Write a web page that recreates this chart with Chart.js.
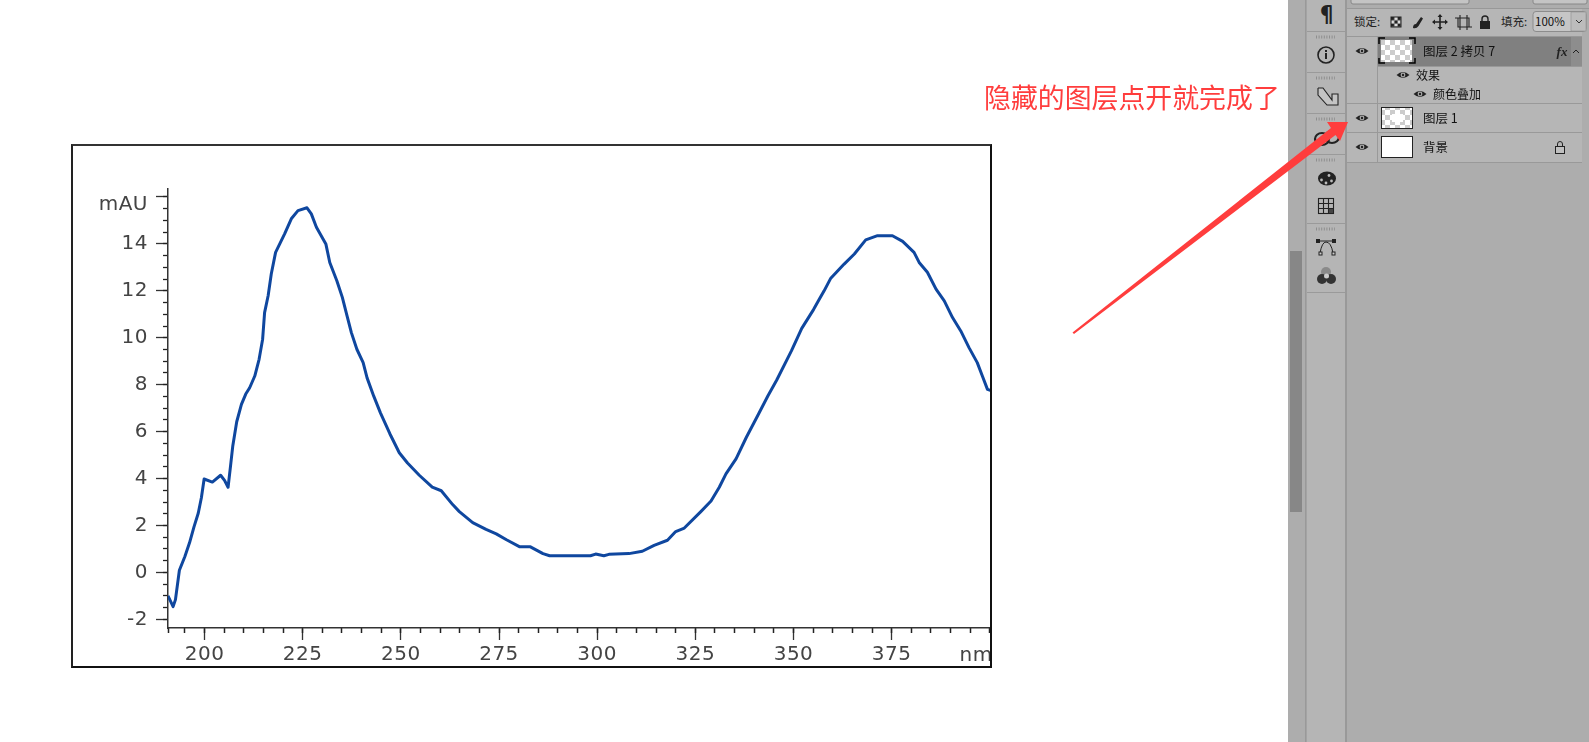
<!DOCTYPE html>
<html lang="zh"><head><meta charset="utf-8">
<script src="https://cdn.jsdelivr.net/npm/chart.js@4"></script>
<style>
html,body{margin:0;padding:0;width:1589px;height:742px;overflow:hidden;background:#fff}
#frame{position:absolute;left:71px;top:144px;width:917px;height:520px;border:2px solid #111;border-top-color:#333;border-left-color:#222;background:#fff;overflow:hidden}
#frame canvas{display:block}
#ui{position:absolute;left:0;top:0}
#ui text{font-family:"Noto Sans CJK SC","Noto Sans",sans-serif;fill:#111;font-size:12.5px}
</style></head><body>
<div id="frame"><canvas id="c" width="918" height="520"></canvas></div>
<svg id="ui" width="1589" height="742" xmlns="http://www.w3.org/2000/svg">
<defs>
<pattern id="chk" width="10" height="10" patternUnits="userSpaceOnUse"><rect width="10" height="10" fill="#fff"/><rect width="5" height="5" fill="#ccc"/><rect x="5" y="5" width="5" height="5" fill="#ccc"/></pattern>
<pattern id="chkd" x="1391" y="17" width="6.600" height="6.600" patternUnits="userSpaceOnUse"><rect width="6.600" height="6.600" fill="#ddd"/><rect width="3.300" height="3.300" fill="#222"/><rect x="3.300" y="3.300" width="3.300" height="3.300" fill="#222"/></pattern>
<g id="eye"><path d="M-6.500 0Q0 -6 6.500 0Q0 6 -6.500 0Z" fill="#222"/><circle r="2.400" fill="#aaa"/><circle r="1.200" fill="#222"/></g>
<g id="grip"><line x1="0" x2="19" stroke="#8e8e8e" stroke-width="3" stroke-dasharray="1 1.600"/></g>
</defs>
<rect x="1288" y="0" width="301" height="742" fill="#adadad"/>
<rect x="1290" y="251" width="12" height="261" fill="#878787"/>
<rect x="1305" y="0" width="1.500" height="742" fill="#999"/>
<rect x="1307" y="0" width="38" height="742" fill="#b5b5b5"/>
<rect x="1345" y="0" width="2" height="742" fill="#999"/>
<g fill="#9a9a9a"><rect x="1307" y="31" width="38" height="1"/><rect x="1307" y="72" width="38" height="1"/><rect x="1307" y="113" width="38" height="1"/><rect x="1307" y="154" width="38" height="1"/><rect x="1307" y="223" width="38" height="1"/><rect x="1307" y="292" width="38" height="1"/></g>
<use href="#grip" x="1316" y="37"/><use href="#grip" x="1316" y="78"/><use href="#grip" x="1316" y="119"/><use href="#grip" x="1316" y="160"/><use href="#grip" x="1316" y="229"/>
<text x="1327" y="22" text-anchor="middle" style="font-size:22px;font-weight:700;fill:#222">¶</text>
<circle cx="1326" cy="55" r="8" fill="none" stroke="#222" stroke-width="1.600"/><rect x="1325" y="53" width="2" height="6" fill="#222"/><rect x="1325" y="50" width="2" height="2" fill="#222"/>
<path d="M1318 88h5l9 12v-6h6v11h-6M1318 88v7l9 10h5" fill="#ddd" fill-opacity=".4" stroke="#222" stroke-width="1.100"/>
<g fill="none" stroke="#222" stroke-width="2.200"><ellipse cx="1322" cy="139" rx="7" ry="6"/><ellipse cx="1332" cy="137" rx="7" ry="6"/></g>
<ellipse cx="1327" cy="178.500" rx="9" ry="7" fill="#222"/><g fill="#bbb"><circle cx="1321.500" cy="180" r="1.400"/><circle cx="1326" cy="183" r="1.400"/><circle cx="1331.500" cy="181" r="1.400"/><circle cx="1329" cy="175.500" r="1.400"/></g>
<g fill="none" stroke="#222" stroke-width="1.100"><rect x="1318.500" y="198.500" width="15" height="15"/><path d="M1323.500 198.500v15M1328.500 198.500v15M1318.500 203.500h15M1318.500 208.500h15"/></g><rect x="1329" y="209" width="4" height="4" fill="#444"/>
<path d="M1320 253Q1322 242 1326 242Q1331 242 1333 253" fill="none" stroke="#222"/><path d="M1317 241h18" stroke="#222"/><rect x="1316" y="239" width="4" height="4" fill="#222"/><rect x="1332" y="239" width="4" height="4" fill="#222"/><rect x="1319" y="252" width="3" height="3" fill="#ccc" stroke="#222"/><rect x="1332" y="252" width="3" height="3" fill="#ccc" stroke="#222"/>
<circle cx="1326" cy="272" r="5" fill="#8a8a8a"/><circle cx="1322" cy="279" r="5" fill="#333"/><circle cx="1331" cy="279" r="5" fill="#333"/><circle cx="1326.500" cy="276" r="2.500" fill="#ccc"/>
<rect x="1347" y="0" width="235" height="742" fill="#adadad"/>
<rect x="1351" y="-6" width="118" height="10" rx="2" fill="#c4c4c4" stroke="#888"/>
<rect x="1533" y="-6" width="54" height="10" rx="2" fill="#c4c4c4" stroke="#888"/>
<rect x="1347" y="8" width="242" height="1" fill="#989898"/>
<rect x="1347" y="9" width="235" height="27" fill="#b6b6b6"/>
<rect x="1347" y="36" width="235" height="1" fill="#989898"/>
<text x="1354" y="26" style="font-size:11.500px;fill:#222">锁定:</text>
<rect x="1391" y="17" width="10" height="10" fill="url(#chkd)" stroke="#222" stroke-width="1"/>
<path d="M1413 28q0 -4 3 -4l5 -7 2 1.500-4.500 7.500q-2 3 -5.500 2z" fill="#222"/>
<path d="M1440 15v14M1433 22h14" stroke="#222" stroke-width="1.600"/><path d="M1440 14l-2.500 3h5zM1440 30l-2.500 -3h5zM1432 22l3 -2.500v5zM1448 22l-3 -2.500v5z" fill="#222"/>
<path d="M1458 18h11v9h-11zM1460 15v15M1467 15v15M1455 18h3M1469 27h3" fill="none" stroke="#222" stroke-width="1.100"/>
<rect x="1480" y="21" width="10" height="8" fill="#222"/><path d="M1482 21v-2a3 3 0 0 1 6 0v2" fill="none" stroke="#222" stroke-width="1.400"/>
<text x="1501" y="26" style="font-size:11.500px;fill:#222">填充:</text>
<rect x="1533" y="11.500" width="53" height="20" rx="3" fill="#c6c6c6" stroke="#8c8c8c"/>
<rect x="1571" y="12" width="15" height="19" fill="#bcbcbc" stroke="#8c8c8c" stroke-width=".6"/>
<text x="1535" y="26" style="font-size:11.500px">100%</text>
<path d="M1576 20l3 3 3-3" fill="none" stroke="#333"/>
<rect x="1347" y="37" width="235" height="125" fill="#b6b6b6"/>
<rect x="1378" y="37" width="193" height="29" fill="#808080"/>
<rect x="1571" y="37" width="11" height="29" fill="#8d8d8d"/>
<g fill="#999"><rect x="1377" y="37" width="1" height="125"/><rect x="1378" y="66" width="204" height="1"/><rect x="1347" y="103" width="235" height="1"/><rect x="1347" y="132" width="235" height="1"/><rect x="1347" y="162" width="235" height="1"/></g>
<use href="#eye" x="1362" y="51"/><use href="#eye" x="1403" y="75"/><use href="#eye" x="1420" y="94"/><use href="#eye" x="1362" y="118"/><use href="#eye" x="1362" y="147"/>
<rect x="1381" y="40" width="31" height="22" fill="url(#chk)"/>
<path d="M1379 44v-6h6M1409 38h6v6M1415 58v5h-6M1385 63h-6v-5" fill="none" stroke="#000" stroke-width="1.500"/>
<text x="1423" y="56">图层 2 拷贝 7</text>
<text x="1562" y="56" text-anchor="middle" style="font-size:13px;font-style:italic;font-weight:700;fill:#222;font-family:'Liberation Serif',serif">fx</text>
<path d="M1573 53l3-3 3 3" fill="none" stroke="#222"/>
<text x="1416" y="80" style="font-size:12px">效果</text>
<text x="1433" y="99" style="font-size:12px">颜色叠加</text>
<rect x="1381.500" y="107.500" width="31" height="21" fill="url(#chk)" stroke="#222"/>
<rect x="1392" y="114" width="11" height="8" fill="#fff"/>
<text x="1423" y="123">图层 1</text>
<rect x="1381.500" y="136.500" width="31" height="21" fill="#fff" stroke="#222"/>
<text x="1423" y="152">背景</text>
<rect x="1555.500" y="146.500" width="9" height="7" fill="#c0c0c0" stroke="#222"/><path d="M1557.500 146v-2a2.500 2.500 0 0 1 5 0v2" fill="none" stroke="#222"/>
<text x="984" y="108" style="font-size:26.900px;fill:#ff3d3d">隐藏的图层点开就完成了</text>
<polygon points="1072.500,332.500 1331,128 1327,122 1348,122 1340,141 1335.500,135 1074,334" fill="#ff3d3d"/>
</svg>
<script>
const wavelengths=[190.7,192,192.6,193.6,195,196.2,197.3,198.4,199.2,199.9,202,204.1,205.1,206,206.6,207.2,208.2,209.4,210.5,211.5,212.8,213.9,214.8,215.3,216.2,217,218.1,220.4,222.1,223.8,226.1,227.2,228.5,230.9,231.9,233.7,235.1,236.3,237.4,238.8,240.4,241.4,243.1,244.8,247.2,249.6,251.7,254.7,258,260.3,263.2,264.9,268.3,271.7,274.3,276.9,280.3,283,286.2,287.9,298.3,299.6,301.7,303,308.1,311.5,314.5,317.9,320,322.2,326.4,329,331.1,332.8,335.4,338,341,343.5,345.7,349.5,352.1,355.1,356.6,357.8,359.5,362.9,365.5,368.4,371.4,375.2,377.8,380.7,382,384.1,386.3,388.4,390.5,392.6,394.7,396.8,398.1,399.4,400.3];
const absorbance=[-1,-1.46,-1.16,0.09,0.68,1.27,1.93,2.52,3.18,3.98,3.85,4.14,3.92,3.63,4.5,5.39,6.42,7.16,7.6,7.87,8.37,9.08,9.94,11.07,11.79,12.72,13.64,14.43,15.07,15.42,15.54,15.28,14.71,14,13.21,12.43,11.72,10.93,10.22,9.51,8.94,8.29,7.51,6.8,5.91,5.1,4.66,4.14,3.63,3.48,2.89,2.59,2.12,1.83,1.64,1.39,1.09,1.09,0.8,0.71,0.71,0.78,0.71,0.77,0.8,0.9,1.15,1.37,1.74,1.89,2.59,3.04,3.63,4.2,4.85,5.76,6.72,7.53,8.19,9.45,10.4,11.2,11.65,12,12.54,13.14,13.57,14.17,14.35,14.35,14.11,13.64,13.21,12.79,12.07,11.57,10.86,10.29,9.58,8.94,8.37,7.8,7.75];
const yMajorTicks=[-2,0,2,4,6,8,10,12,14,16];
const yTickLabels=['-2','0','2','4','6','8','10','12','14',''];
const yUnitLabel='mAU';
const yMinorTicks=[-2,-1.5,-1,-0.5,0,0.5,1,1.5,2,2.5,3,3.5,4,4.5,5,5.5,6,6.5,7,7.5,8,8.5,9,9.5,10,10.5,11,11.5,12,12.5,13,13.5,14,14.5,15,15.5,16];
const xMajorTicks=[200,225,250,275,300,325,350,375];
const xMinorTicks=[190.7,195,200,205,210,215,220,225,230,235,240,245,250,255,260,265,270,275,280,285,290,295,300,305,310,315,320,325,330,335,340,345,350,355,360,365,370,375,380,385,390,395,400];
const xUnitLabel='nm';
const font={family:'"DejaVu Sans"',size:20};
const ink='#444';
const fixTicks=a=>s=>{s.ticks=a.map(v=>({value:v}))};
const box=(prop,v)=>s=>{s[prop]=v};
new Chart(document.getElementById('c'),{
 type:'line',
 data:{datasets:[{data:wavelengths.map((x,i)=>({x,y:absorbance[i]})),borderColor:'#0f479f',borderWidth:3,pointRadius:0,tension:0,borderJoinStyle:'round',xAxisID:'x',yAxisID:'y'}]},
 plugins:[{id:'units',
  beforeDraw(ch){ch.ctx.letterSpacing='0.5px';},
  afterDraw(ch){const c=ch.ctx,sx=ch.scales.x,sy=ch.scales.y;c.save();c.font='20px "DejaVu Sans"';c.fillStyle=ink;c.textBaseline='middle';
    c.textAlign='left';c.fillText(xUnitLabel,sx.getPixelForValue(392.3),sx.top+28);
    c.textAlign='right';c.fillText(yUnitLabel,sx.left-20,sy.getPixelForValue(16)+8);c.restore();}}],
 options:{responsive:false,animation:false,events:[],
  layout:{padding:{top:43,right:0,left:0,bottom:0}},
  plugins:{legend:{display:false},tooltip:{enabled:false},title:{display:false}},
  scales:{
   x:{type:'linear',position:'bottom',min:190.7,max:400.3,weight:1,
     afterBuildTicks:fixTicks(xMajorTicks),afterFit:box('height',38),
     border:{display:true,color:'#333',width:1.5},
     grid:{drawOnChartArea:false,drawTicks:true,tickLength:12,color:'#333',tickWidth:1.3},
     ticks:{font,color:ink,padding:3,autoSkip:false,maxRotation:0,callback:v=>String(v)}},
   x2:{type:'linear',position:'bottom',min:190.7,max:400.3,weight:0,
     afterBuildTicks:fixTicks(xMinorTicks),afterFit:box('height',0),
     border:{display:false},
     grid:{drawOnChartArea:false,drawTicks:true,tickLength:5,color:'#222',tickWidth:1.5},
     ticks:{display:false}},
   y:{type:'linear',position:'left',min:-2.37,max:16.34,weight:1,
     afterBuildTicks:fixTicks(yMajorTicks),afterFit:box('width',95),
     border:{display:true,color:'#333',width:1.5},
     grid:{drawOnChartArea:false,drawTicks:true,tickLength:12,color:'#333',tickWidth:1.3},
     ticks:{font,color:ink,padding:8,autoSkip:false,maxRotation:0,callback:v=>yTickLabels[yMajorTicks.indexOf(v)]}},
   y2:{type:'linear',position:'left',min:-2.37,max:16.34,weight:0,
     afterBuildTicks:fixTicks(yMinorTicks),afterFit:box('width',0),
     border:{display:false},
     grid:{drawOnChartArea:false,drawTicks:true,tickLength:5,color:'#222',tickWidth:1.3},
     ticks:{display:false}}
  }}
});
</script>
</body></html>
